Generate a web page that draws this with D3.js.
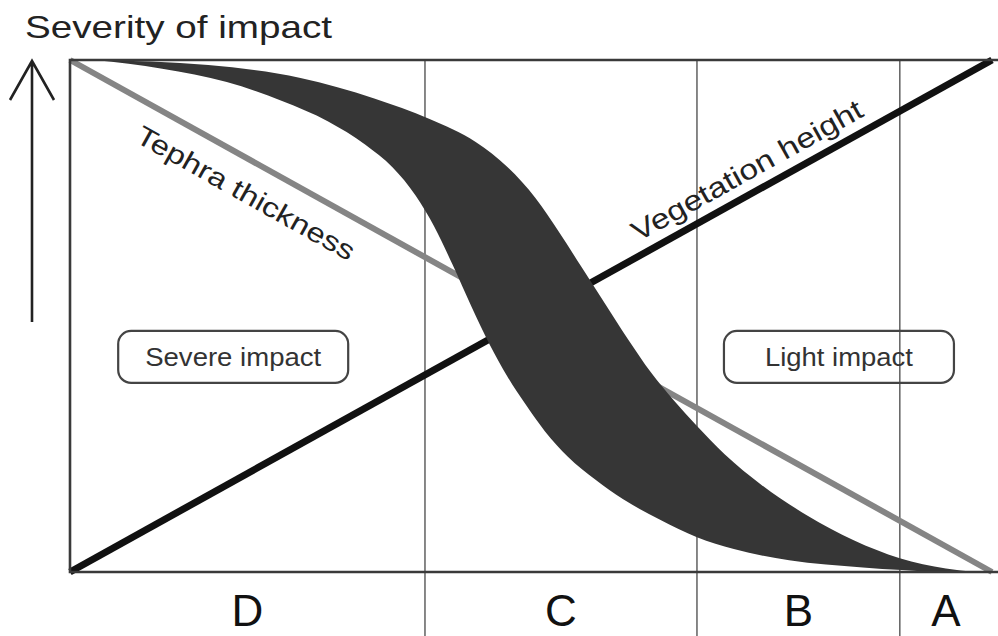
<!DOCTYPE html>
<html>
<head>
<meta charset="utf-8">
<script src="https://cdn.jsdelivr.net/npm/d3@7"></script>
<style>
  html, body { margin: 0; padding: 0; background: #fff; }
  svg { display: block; font-family: "Liberation Sans", Arial, sans-serif; }
</style>
</head>
<body>
<svg id="chart" width="998" height="636"></svg>
<script>
// ---- data (relative units: x = position 0..100, y = severity 0..100) ----
const zones = ["D", "C", "B", "A"];
const zoneBounds = [0, 38.5, 68.0, 90.0, 100];
const tephraThickness = [[0, 100], [100, 0]];
const vegetationHeight = [[0, 0], [100, 100]];
const bandUpper = [
  [2.7, 100], [15, 99], [25, 96.5], [33, 92.5], [39, 88.5], [44, 84], [47.5, 79],
  [50.5, 73], [53, 66.5], [55.5, 59.5], [58, 52.5], [60.5, 45.5], [63, 39], [65.5, 33.5],
  [68, 28.5], [71, 23], [75, 17], [80, 11], [85, 6.2], [90, 2.7], [95, 0.7], [98.2, 0]
];
const bandLower = [
  [2.7, 100], [10, 98.3], [17, 95.7], [23, 92], [28, 88], [32, 83.5], [35, 79],
  [37.5, 73.5], [39.5, 67.5], [41.5, 60], [43.5, 52], [45.5, 44.5], [47.5, 38],
  [49.5, 32.5], [51.5, 27.5], [54, 22.5], [57, 18], [60, 14.2], [64, 10.2], [68, 6.8],
  [72, 4.5], [78, 2.3], [86, 0.9], [94.4, 0]
];
const impactLabels = [
  { text: "Severe impact", x: 17.7, y: 42 },
  { text: "Light impact", x: 83.4, y: 42 }
];
const yTitle = "Severity of impact";

// ---- scales ----
const svg = d3.select("#chart");
const x = d3.scaleLinear().domain([0, 100]).range([70, 992]);
const y = d3.scaleLinear().domain([0, 100]).range([572, 60]);

const line = d3.line().x(d => x(d[0])).y(d => y(d[1]));
const curve = d3.line().x(d => x(d[0])).y(d => y(d[1])).curve(d3.curveMonotoneX);

// zone dividers
svg.append("g").selectAll("line")
  .data(zoneBounds.slice(1, -1))
  .join("line")
  .attr("x1", d => x(d)).attr("x2", d => x(d))
  .attr("y1", y(100)).attr("y2", 636)
  .attr("stroke", "#6a6a6a").attr("stroke-width", 1.6);

// tephra thickness line (grey)
svg.append("path").attr("d", line(tephraThickness))
  .attr("fill", "none").attr("stroke", "#858585").attr("stroke-width", 6);

// vegetation height line (black)
svg.append("path").attr("d", line(vegetationHeight))
  .attr("fill", "none").attr("stroke", "#111").attr("stroke-width", 7);

// impact band
const bandPath = curve(bandUpper) + curve(bandLower.slice().reverse()).replace(/^M/, "L") + "Z";
svg.append("path").attr("d", bandPath).attr("fill", "#363636").attr("stroke", "none");

// frame (left, top, bottom)
svg.append("path")
  .attr("d", `M${x(100) + 6},${y(100)} L${x(0)},${y(100)} L${x(0)},${y(0)} L${x(100) + 6},${y(0)}`)
  .attr("fill", "none").attr("stroke", "#3a3a3a").attr("stroke-width", 2.6);

// line labels
svg.append("text")
  .attr("transform", `translate(134,141) rotate(29.3)`)
  .attr("font-size", 27).attr("fill", "#222")
  .attr("textLength", 246).attr("lengthAdjust", "spacingAndGlyphs")
  .text("Tephra thickness");

svg.append("text")
  .attr("transform", `translate(638,242) rotate(-29.1)`)
  .attr("font-size", 28).attr("fill", "#222")
  .attr("textLength", 260).attr("lengthAdjust", "spacingAndGlyphs")
  .text("Vegetation height");

// impact boxes
const boxes = svg.append("g").selectAll("g").data(impactLabels).join("g");
boxes.append("rect")
  .attr("x", d => x(d.x) - 115).attr("y", d => y(d.y) - 26)
  .attr("width", 230).attr("height", 52).attr("rx", 13)
  .attr("fill", "none").attr("stroke", "#444").attr("stroke-width", 2.2);
boxes.append("text")
  .attr("x", d => x(d.x)).attr("y", d => y(d.y) + 9)
  .attr("text-anchor", "middle").attr("font-size", 26).attr("fill", "#333")
  .attr("textLength", (d, i) => i === 0 ? 176 : 148).attr("lengthAdjust", "spacingAndGlyphs")
  .text(d => d.text);

// zone labels
svg.append("g").selectAll("text")
  .data(zones)
  .join("text")
  .attr("x", (d, i) => x((zoneBounds[i] + zoneBounds[i + 1]) / 2))
  .attr("y", 626)
  .attr("text-anchor", "middle").attr("font-size", 44).attr("fill", "#111")
  .text(d => d);

// y title and arrow
svg.append("text").attr("x", 25).attr("y", 38)
  .attr("font-size", 32).attr("fill", "#222")
  .attr("textLength", 307).attr("lengthAdjust", "spacingAndGlyphs")
  .text(yTitle);
svg.append("path")
  .attr("d", "M32,322 L32,61 M10,100 L32,61 L54,100")
  .attr("fill", "none").attr("stroke", "#222").attr("stroke-width", 2.6);
</script>
</body>
</html>
